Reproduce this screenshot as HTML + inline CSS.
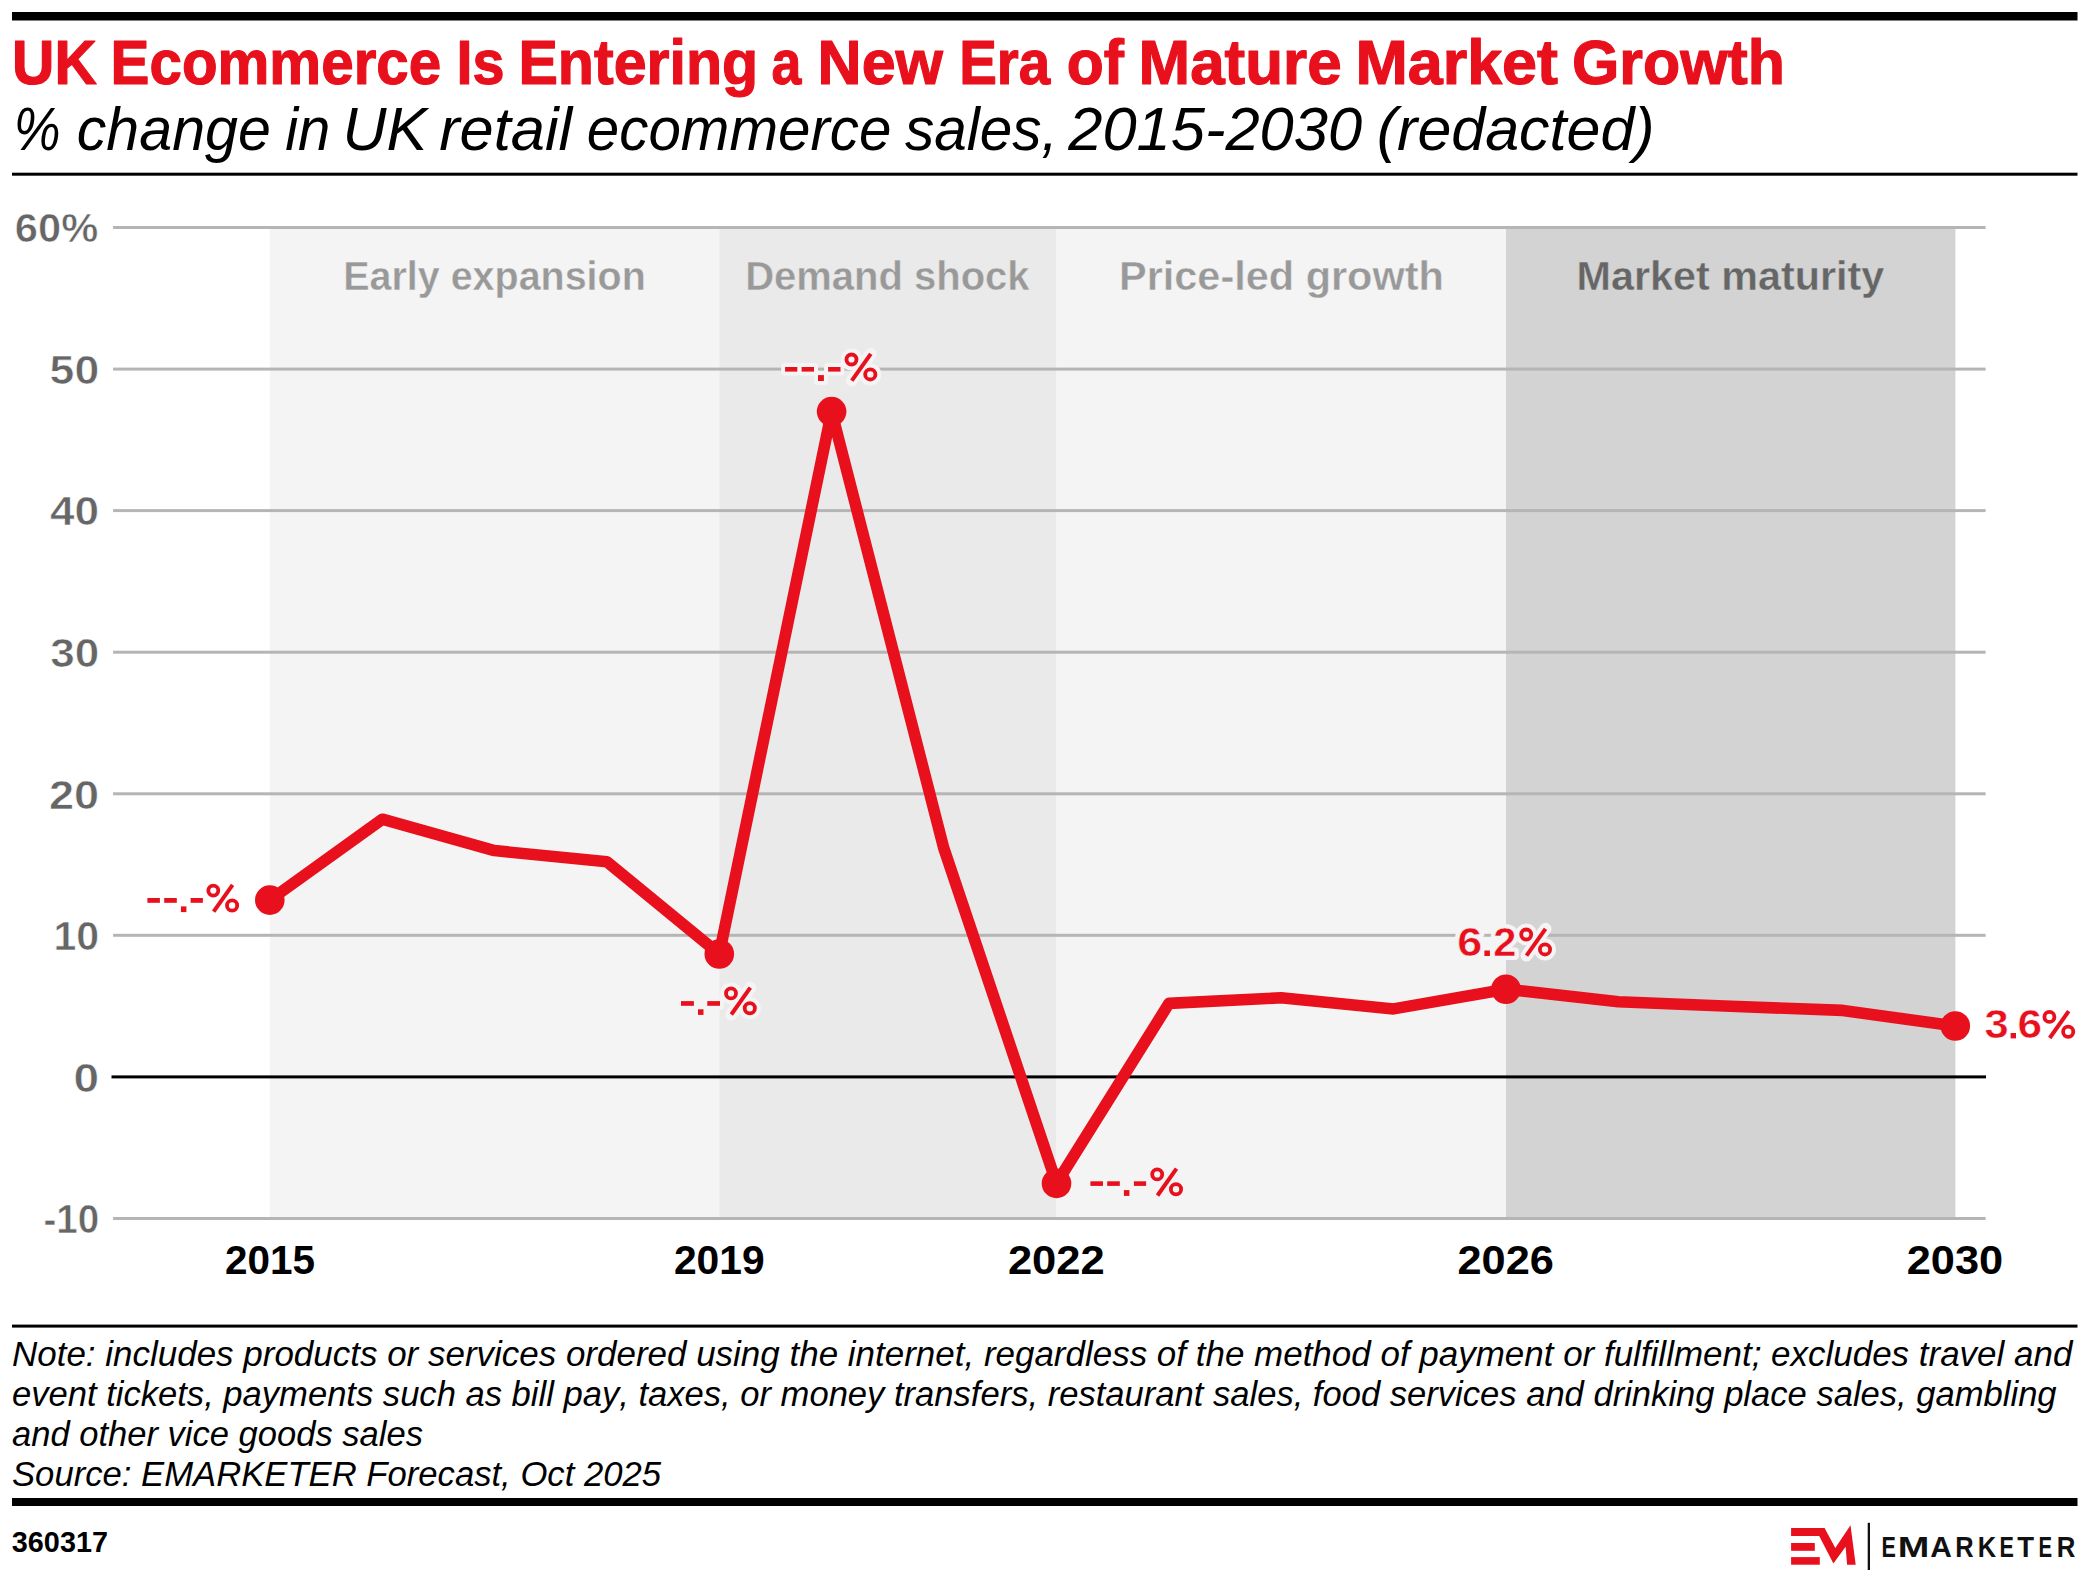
<!DOCTYPE html><html><head><meta charset="utf-8"><style>
html,body{margin:0;padding:0;background:#fff;width:2092px;height:1581px;overflow:hidden}
svg{display:block}
text{font-family:"Liberation Sans",sans-serif;font-kerning:none}
.b{font-weight:bold}
.i{font-style:italic}
</style></head><body>
<svg width="2092" height="1581" viewBox="0 0 2092 1581">
<rect x="12" y="12" width="2065.5" height="8.5" fill="#000"/>
<rect x="12" y="172.7" width="2065.5" height="3" fill="#000"/>
<rect x="269.8" y="227.5" width="449.5" height="991.0" fill="#f4f4f4"/>
<rect x="719.3" y="227.5" width="337.0" height="991.0" fill="#eaeaea"/>
<rect x="1056.3" y="227.5" width="449.7" height="991.0" fill="#f4f4f4"/>
<rect x="1506.0" y="227.5" width="449.4" height="991.0" fill="#d3d3d3"/>
<rect x="113.1" y="226.0" width="1872.5" height="3" fill="#b5b5b5"/>
<rect x="113.1" y="367.6" width="1872.5" height="3" fill="#b5b5b5"/>
<rect x="113.1" y="509.1" width="1872.5" height="3" fill="#b5b5b5"/>
<rect x="113.1" y="650.7" width="1872.5" height="3" fill="#b5b5b5"/>
<rect x="113.1" y="792.3" width="1872.5" height="3" fill="#b5b5b5"/>
<rect x="113.1" y="933.8" width="1872.5" height="3" fill="#b5b5b5"/>
<rect x="113.1" y="1217.0" width="1872.5" height="3" fill="#b5b5b5"/>
<rect x="111.5" y="1075.4" width="1874.5" height="3" fill="#000"/>
<text class="b" x="12.00" y="83.50" font-size="62.3" fill="#e8101c" textLength="84.80" lengthAdjust="spacingAndGlyphs" style="stroke:#e8101c;stroke-width:1.2px;stroke-linejoin:round">UK</text>
<text class="b" x="110.60" y="83.50" font-size="62.3" fill="#e8101c" textLength="330.60" lengthAdjust="spacingAndGlyphs" style="stroke:#e8101c;stroke-width:1.2px;stroke-linejoin:round">Ecommerce</text>
<text class="b" x="456.40" y="83.50" font-size="62.3" fill="#e8101c" textLength="48.00" lengthAdjust="spacingAndGlyphs" style="stroke:#e8101c;stroke-width:1.2px;stroke-linejoin:round">Is</text>
<text class="b" x="518.40" y="83.50" font-size="62.3" fill="#e8101c" textLength="239.80" lengthAdjust="spacingAndGlyphs" style="stroke:#e8101c;stroke-width:1.2px;stroke-linejoin:round">Entering</text>
<text class="b" x="771.60" y="83.50" font-size="62.3" fill="#e8101c" textLength="29.80" lengthAdjust="spacingAndGlyphs" style="stroke:#e8101c;stroke-width:1.2px;stroke-linejoin:round">a</text>
<text class="b" x="817.60" y="83.50" font-size="62.3" fill="#e8101c" textLength="125.40" lengthAdjust="spacingAndGlyphs" style="stroke:#e8101c;stroke-width:1.2px;stroke-linejoin:round">New</text>
<text class="b" x="959.20" y="83.50" font-size="62.3" fill="#e8101c" textLength="91.00" lengthAdjust="spacingAndGlyphs" style="stroke:#e8101c;stroke-width:1.2px;stroke-linejoin:round">Era</text>
<text class="b" x="1066.80" y="83.50" font-size="62.3" fill="#e8101c" textLength="57.20" lengthAdjust="spacingAndGlyphs" style="stroke:#e8101c;stroke-width:1.2px;stroke-linejoin:round">of</text>
<text class="b" x="1138.60" y="83.50" font-size="62.3" fill="#e8101c" textLength="203.00" lengthAdjust="spacingAndGlyphs" style="stroke:#e8101c;stroke-width:1.2px;stroke-linejoin:round">Mature</text>
<text class="b" x="1355.40" y="83.50" font-size="62.3" fill="#e8101c" textLength="202.60" lengthAdjust="spacingAndGlyphs" style="stroke:#e8101c;stroke-width:1.2px;stroke-linejoin:round">Market</text>
<text class="b" x="1572.00" y="83.50" font-size="62.3" fill="#e8101c" textLength="213.00" lengthAdjust="spacingAndGlyphs" style="stroke:#e8101c;stroke-width:1.2px;stroke-linejoin:round">Growth</text>
<text class="i" x="13.80" y="150.40" font-size="61" fill="#000" textLength="46.80" lengthAdjust="spacingAndGlyphs" >%</text>
<text class="i" x="76.80" y="150.40" font-size="61" fill="#000" textLength="194.00" lengthAdjust="spacingAndGlyphs" >change</text>
<text class="i" x="285.20" y="150.40" font-size="61" fill="#000" textLength="45.20" lengthAdjust="spacingAndGlyphs" >in</text>
<text class="i" x="342.60" y="150.40" font-size="61" fill="#000" textLength="84.60" lengthAdjust="spacingAndGlyphs" >UK</text>
<text class="i" x="439.20" y="150.40" font-size="61" fill="#000" textLength="133.00" lengthAdjust="spacingAndGlyphs" >retail</text>
<text class="i" x="586.80" y="150.40" font-size="61" fill="#000" textLength="304.60" lengthAdjust="spacingAndGlyphs" >ecommerce</text>
<text class="i" x="905.00" y="150.40" font-size="61" fill="#000" textLength="152.80" lengthAdjust="spacingAndGlyphs" >sales,</text>
<text class="i" x="1068.20" y="150.40" font-size="61" fill="#000" textLength="294.00" lengthAdjust="spacingAndGlyphs" >2015-2030</text>
<text class="i" x="1376.80" y="150.40" font-size="61" fill="#000" textLength="277.80" lengthAdjust="spacingAndGlyphs" >(redacted)</text>
<text class="b" x="343.20" y="289.60" font-size="41.5" fill="#999999" textLength="302.60" lengthAdjust="spacingAndGlyphs" style="stroke:#f4f4f4;stroke-width:0.4px">Early expansion</text>
<text class="b" x="745.20" y="289.60" font-size="41.5" fill="#999999" textLength="284.40" lengthAdjust="spacingAndGlyphs" style="stroke:#eaeaea;stroke-width:0.4px">Demand shock</text>
<text class="b" x="1119.00" y="289.60" font-size="41.5" fill="#999999" textLength="324.80" lengthAdjust="spacingAndGlyphs" style="stroke:#f4f4f4;stroke-width:0.4px">Price-led growth</text>
<text class="b" x="1576.60" y="289.60" font-size="41.5" fill="#666666" textLength="307.60" lengthAdjust="spacingAndGlyphs" style="stroke:#d3d3d3;stroke-width:0.4px">Market maturity</text>
<text class="b" x="14.80" y="242.28" font-size="39.8" fill="#666666" textLength="83.40" lengthAdjust="spacingAndGlyphs" style="stroke:#fff;stroke-width:0.6px">60%</text>
<text class="b" x="49.60" y="383.85" font-size="39.8" fill="#666666" textLength="49.60" lengthAdjust="spacingAndGlyphs" style="stroke:#fff;stroke-width:0.6px">50</text>
<text class="b" x="50.00" y="525.42" font-size="39.8" fill="#666666" textLength="49.20" lengthAdjust="spacingAndGlyphs" style="stroke:#fff;stroke-width:0.6px">40</text>
<text class="b" x="50.20" y="666.99" font-size="39.8" fill="#666666" textLength="49.00" lengthAdjust="spacingAndGlyphs" style="stroke:#fff;stroke-width:0.6px">30</text>
<text class="b" x="49.00" y="808.56" font-size="39.8" fill="#666666" textLength="50.20" lengthAdjust="spacingAndGlyphs" style="stroke:#fff;stroke-width:0.6px">20</text>
<text class="b" x="53.40" y="950.13" font-size="39.8" fill="#666666" textLength="45.80" lengthAdjust="spacingAndGlyphs" style="stroke:#fff;stroke-width:0.6px">10</text>
<text class="b" x="73.60" y="1091.70" font-size="39.8" fill="#666666" textLength="25.60" lengthAdjust="spacingAndGlyphs" style="stroke:#fff;stroke-width:0.6px">0</text>
<text class="b" x="43.40" y="1233.27" font-size="39.8" fill="#666666" textLength="55.80" lengthAdjust="spacingAndGlyphs" style="stroke:#fff;stroke-width:0.6px">-10</text>
<text class="b" x="225.00" y="1274.30" font-size="40.3" fill="#000" textLength="90.00" lengthAdjust="spacingAndGlyphs" >2015</text>
<text class="b" x="673.93" y="1274.30" font-size="40.3" fill="#000" textLength="90.80" lengthAdjust="spacingAndGlyphs" >2019</text>
<text class="b" x="1007.92" y="1274.30" font-size="40.3" fill="#000" textLength="96.80" lengthAdjust="spacingAndGlyphs" >2022</text>
<text class="b" x="1457.45" y="1274.30" font-size="40.3" fill="#000" textLength="96.40" lengthAdjust="spacingAndGlyphs" >2026</text>
<text class="b" x="1906.78" y="1274.30" font-size="40.3" fill="#000" textLength="96.40" lengthAdjust="spacingAndGlyphs" >2030</text>
<text class="i" x="12.00" y="1366.30" font-size="35.3" fill="#000" textLength="2060.40" lengthAdjust="spacingAndGlyphs" >Note: includes products or services ordered using the internet, regardless of the method of payment or fulfillment; excludes travel and</text>
<text class="i" x="12.00" y="1406.00" font-size="35.3" fill="#000" textLength="2044.60" lengthAdjust="spacingAndGlyphs" >event tickets, payments such as bill pay, taxes, or money transfers, restaurant sales, food services and drinking place sales, gambling</text>
<text class="i" x="12.00" y="1445.80" font-size="35.3" fill="#000" textLength="411.00" lengthAdjust="spacingAndGlyphs" >and other vice goods sales</text>
<text class="i" x="12.00" y="1485.50" font-size="35.3" fill="#000" textLength="649.00" lengthAdjust="spacingAndGlyphs" >Source: EMARKETER Forecast, Oct 2025</text>
<text class="b" x="11.80" y="1552.00" font-size="28.6" fill="#000" textLength="96.20" lengthAdjust="spacingAndGlyphs" >360317</text>
<text class="b" x="1881.40" y="1556.90" font-size="30.4" fill="#111" textLength="14.40" lengthAdjust="spacingAndGlyphs" >E</text>
<text class="b" x="1897.80" y="1556.90" font-size="30.4" fill="#111" textLength="31.60" lengthAdjust="spacingAndGlyphs" >M</text>
<text class="b" x="1930.20" y="1556.90" font-size="30.4" fill="#111" textLength="21.60" lengthAdjust="spacingAndGlyphs" >A</text>
<text class="b" x="1955.20" y="1556.90" font-size="30.4" fill="#111" textLength="18.40" lengthAdjust="spacingAndGlyphs" >R</text>
<text class="b" x="1977.80" y="1556.90" font-size="30.4" fill="#111" textLength="18.40" lengthAdjust="spacingAndGlyphs" >K</text>
<text class="b" x="1999.60" y="1556.90" font-size="30.4" fill="#111" textLength="14.40" lengthAdjust="spacingAndGlyphs" >E</text>
<text class="b" x="2017.20" y="1556.90" font-size="30.4" fill="#111" textLength="16.80" lengthAdjust="spacingAndGlyphs" >T</text>
<text class="b" x="2038.40" y="1556.90" font-size="30.4" fill="#111" textLength="13.60" lengthAdjust="spacingAndGlyphs" >E</text>
<text class="b" x="2056.80" y="1556.90" font-size="30.4" fill="#111" textLength="18.60" lengthAdjust="spacingAndGlyphs" >R</text>
<path d="M269.8,900.1 L382.3,819.2 L494.4,850.6 L606.9,861.8 L719.3,954.0 L831.6,411.6 L943.6,847.6 L1056.5,1183.4 L1169.0,1003.4 L1281.0,997.8 L1393.5,1008.9 L1506.0,989.2 L1618.3,1001.7 L1730.6,1006.3 L1842.8,1010.4 L1955.3,1026.0" fill="none" stroke="#e8101c" stroke-width="11.6" stroke-linejoin="round"/>
<circle cx="269.8" cy="900.1" r="14.8" fill="#e8101c"/>
<circle cx="719.3" cy="954.0" r="14.8" fill="#e8101c"/>
<circle cx="831.6" cy="411.6" r="14.8" fill="#e8101c"/>
<circle cx="1056.5" cy="1183.4" r="14.8" fill="#e8101c"/>
<circle cx="1506.0" cy="989.2" r="14.8" fill="#e8101c"/>
<circle cx="1955.3" cy="1026.0" r="14.8" fill="#e8101c"/>
<g fill="#f4f4f4">
<rect x="677.00" y="997.10" width="20.90" height="12.70" rx="4.0"/>
<rect x="703.30" y="997.10" width="20.70" height="12.70" rx="4.0"/>
<rect x="694.00" y="1005.30" width="13.50" height="13.60" rx="4.0"/>
<circle cx="731.00" cy="993.40" r="10.90"/>
<circle cx="749.80" cy="1008.30" r="11.00"/>
<line x1="731.30" y1="1014.50" x2="750.30" y2="987.70" stroke="#f4f4f4" stroke-width="12.0" stroke-linecap="round"/>
<rect x="781.10" y="363.00" width="20.20" height="12.60" rx="4.0"/>
<rect x="797.60" y="363.00" width="20.40" height="12.60" rx="4.0"/>
<rect x="824.10" y="363.00" width="20.40" height="12.60" rx="4.0"/>
<rect x="814.00" y="371.10" width="13.90" height="13.90" rx="4.0"/>
<circle cx="851.50" cy="359.50" r="10.90"/>
<circle cx="870.30" cy="374.40" r="11.00"/>
<line x1="851.80" y1="380.60" x2="870.80" y2="353.80" stroke="#f4f4f4" stroke-width="12.0" stroke-linecap="round"/>
<rect x="1086.40" y="1177.30" width="20.60" height="12.60" rx="4.0"/>
<rect x="1103.20" y="1177.30" width="20.60" height="12.60" rx="4.0"/>
<rect x="1129.90" y="1177.30" width="20.20" height="12.60" rx="4.0"/>
<rect x="1119.90" y="1186.10" width="13.50" height="13.80" rx="4.0"/>
<circle cx="1157.20" cy="1174.40" r="10.90"/>
<circle cx="1176.00" cy="1189.30" r="11.00"/>
<line x1="1157.50" y1="1195.50" x2="1176.50" y2="1168.70" stroke="#f4f4f4" stroke-width="12.0" stroke-linecap="round"/>
<rect x="1480.40" y="946.50" width="13.50" height="13.50" rx="4.0"/>
<circle cx="1526.20" cy="934.50" r="10.90"/>
<circle cx="1545.00" cy="949.40" r="11.00"/>
<line x1="1526.50" y1="955.60" x2="1545.50" y2="928.80" stroke="#f4f4f4" stroke-width="12.0" stroke-linecap="round"/>
<text class="b" x="1457.20" y="956.00" font-size="41" fill="#f4f4f4" textLength="25.00" lengthAdjust="spacingAndGlyphs" style="stroke:#f4f4f4;stroke-width:8px;stroke-linejoin:round">6</text>
<text class="b" x="1493.20" y="956.00" font-size="41" fill="#f4f4f4" textLength="23.20" lengthAdjust="spacingAndGlyphs" style="stroke:#f4f4f4;stroke-width:8px;stroke-linejoin:round">2</text>
</g>
<g fill="#e8101c">
<rect x="147.40" y="898.00" width="12.50" height="4.80"/>
<rect x="164.20" y="898.00" width="12.60" height="4.80"/>
<rect x="190.60" y="898.00" width="12.30" height="4.80"/>
<rect x="180.90" y="906.40" width="5.50" height="5.70"/>
<circle cx="213.30" cy="890.60" r="5.00" fill="none" stroke="#e8101c" stroke-width="3.8"/>
<circle cx="232.10" cy="905.50" r="5.10" fill="none" stroke="#e8101c" stroke-width="3.8"/>
<line x1="213.60" y1="911.70" x2="232.60" y2="884.90" stroke="#e8101c" stroke-width="4"/>
<rect x="681.00" y="1001.10" width="12.90" height="4.70"/>
<rect x="707.30" y="1001.10" width="12.70" height="4.70"/>
<rect x="698.00" y="1009.30" width="5.50" height="5.60"/>
<circle cx="731.00" cy="993.40" r="5.00" fill="none" stroke="#e8101c" stroke-width="3.8"/>
<circle cx="749.80" cy="1008.30" r="5.10" fill="none" stroke="#e8101c" stroke-width="3.8"/>
<line x1="731.30" y1="1014.50" x2="750.30" y2="987.70" stroke="#e8101c" stroke-width="4"/>
<rect x="785.10" y="367.00" width="12.20" height="4.60"/>
<rect x="801.60" y="367.00" width="12.40" height="4.60"/>
<rect x="828.10" y="367.00" width="12.40" height="4.60"/>
<rect x="818.00" y="375.10" width="5.90" height="5.90"/>
<circle cx="851.50" cy="359.50" r="5.00" fill="none" stroke="#e8101c" stroke-width="3.8"/>
<circle cx="870.30" cy="374.40" r="5.10" fill="none" stroke="#e8101c" stroke-width="3.8"/>
<line x1="851.80" y1="380.60" x2="870.80" y2="353.80" stroke="#e8101c" stroke-width="4"/>
<rect x="1090.40" y="1181.30" width="12.60" height="4.60"/>
<rect x="1107.20" y="1181.30" width="12.60" height="4.60"/>
<rect x="1133.90" y="1181.30" width="12.20" height="4.60"/>
<rect x="1123.90" y="1190.10" width="5.50" height="5.80"/>
<circle cx="1157.20" cy="1174.40" r="5.00" fill="none" stroke="#e8101c" stroke-width="3.8"/>
<circle cx="1176.00" cy="1189.30" r="5.10" fill="none" stroke="#e8101c" stroke-width="3.8"/>
<line x1="1157.50" y1="1195.50" x2="1176.50" y2="1168.70" stroke="#e8101c" stroke-width="4"/>
<rect x="1484.40" y="950.50" width="5.50" height="5.50"/>
<circle cx="1526.20" cy="934.50" r="5.00" fill="none" stroke="#e8101c" stroke-width="3.8"/>
<circle cx="1545.00" cy="949.40" r="5.10" fill="none" stroke="#e8101c" stroke-width="3.8"/>
<line x1="1526.50" y1="955.60" x2="1545.50" y2="928.80" stroke="#e8101c" stroke-width="4"/>
<rect x="2010.60" y="1033.00" width="5.40" height="5.40"/>
<circle cx="2049.40" cy="1016.90" r="5.00" fill="none" stroke="#e8101c" stroke-width="3.8"/>
<circle cx="2068.20" cy="1031.80" r="5.10" fill="none" stroke="#e8101c" stroke-width="3.8"/>
<line x1="2049.70" y1="1038.00" x2="2068.70" y2="1011.20" stroke="#e8101c" stroke-width="4"/>
</g>
<text class="b" x="1457.20" y="956.00" font-size="41" fill="#e8101c" textLength="25.00" lengthAdjust="spacingAndGlyphs" style="stroke:#f4f4f4;stroke-width:0.5px">6</text>
<text class="b" x="1493.20" y="956.00" font-size="41" fill="#e8101c" textLength="23.20" lengthAdjust="spacingAndGlyphs" style="stroke:#f4f4f4;stroke-width:0.5px">2</text>
<text class="b" x="1984.60" y="1038.40" font-size="41" fill="#e8101c" textLength="24.20" lengthAdjust="spacingAndGlyphs" style="stroke:#fff;stroke-width:0.5px">3</text>
<text class="b" x="2017.40" y="1038.40" font-size="41" fill="#e8101c" textLength="24.60" lengthAdjust="spacingAndGlyphs" style="stroke:#fff;stroke-width:0.5px">6</text>
<rect x="12" y="1324.6" width="2065.5" height="3" fill="#000"/>
<rect x="12" y="1498" width="2065.5" height="8" fill="#000"/>
<g fill="#e8101c">
<polygon points="1791.1,1528.0 1824.6,1528.0 1835.3,1547.9 1850.5,1525.2 1855.7,1564.7 1847.1,1564.7 1845.6,1546.8 1833.4,1563.6 1819.2,1536.1 1791.1,1536.1"/>
<rect x="1791.1" y="1543.0" width="23.7" height="7.8"/>
<rect x="1791.1" y="1557.1" width="28.7" height="7.6"/>
</g>
<rect x="1867.7" y="1522.8" width="2.3" height="47.2" fill="#111"/>
</svg></body></html>
